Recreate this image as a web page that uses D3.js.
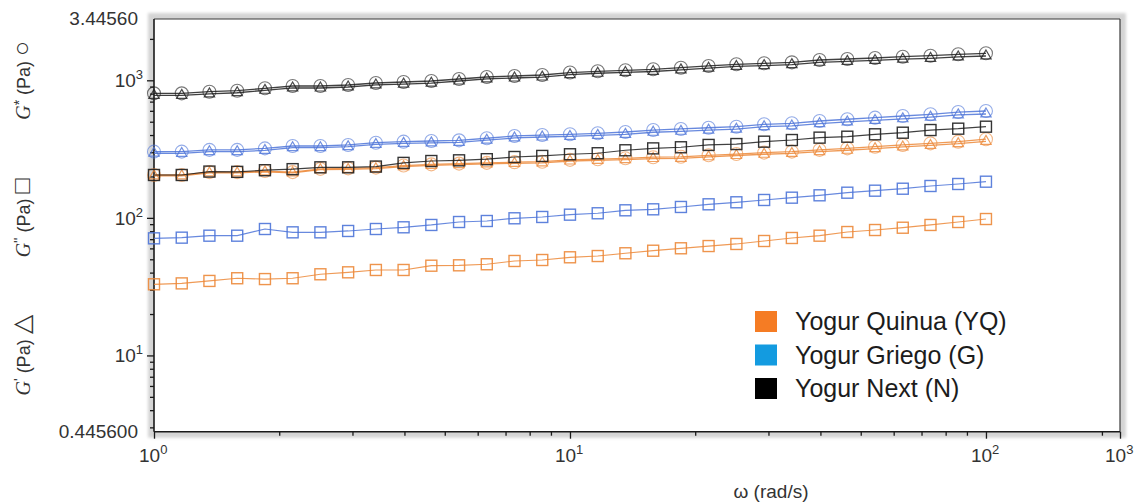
<!DOCTYPE html>
<html><head><meta charset="utf-8">
<script src="https://cdn.jsdelivr.net/npm/d3@7"></script>
<style>body{margin:0;background:#fff} svg{display:block}</style>
</head><body>
<svg id="chart" width="1145" height="502"></svg>
<script>
// Angular frequency sweep (rad/s)
const omega = [1, 1.166, 1.359, 1.585, 1.848, 2.154, 2.512, 2.929, 3.415, 3.981, 4.642, 5.412, 6.310, 7.356, 8.577,
  10, 11.66, 13.59, 15.85, 18.48, 21.54, 25.12, 29.29, 34.15, 39.81, 46.42, 54.12, 63.10, 73.56, 85.77, 100];

// Yogur Quinua (YQ)
const quinuaGStar = [205, 205, 215, 215, 219, 215, 227, 229, 232, 240, 245, 248, 251, 254, 256, 264, 267, 271, 276, 278, 285, 291, 298, 303, 312, 320, 329, 339, 348, 358, 373];
const quinuaGPrime = [202, 202, 212, 212, 216, 212, 224, 225, 228, 236, 241, 244, 247, 249, 251, 259, 262, 265, 270, 271, 278, 284, 290, 294, 303, 310, 319, 328, 336, 346, 360];
const quinuaGDouble = [32.9, 33.4, 34.8, 36.4, 35.9, 36.4, 38.9, 40.2, 41.8, 41.8, 44.9, 45.2, 46, 48.6, 49.4, 51.7, 52.8, 55.3, 57.7, 60.1, 62.4, 64.6, 67.9, 71.4, 74.2, 78.9, 81.6, 84.8, 88.8, 93.3, 98.1];

// Yogur Griego (G)
const griegoGStar = [303, 303, 312, 312, 320, 333, 333, 339, 352, 358, 362, 366, 379, 394, 400, 405, 412, 421, 435, 443, 452, 460, 479, 487, 506, 521, 535, 550, 566, 588, 598];
const griegoGPrime = [295, 294, 303, 303, 309, 324, 324, 329, 342, 348, 351, 354, 367, 381, 387, 391, 398, 405, 419, 426, 434, 441, 460, 466, 484, 498, 511, 525, 540, 561, 569];
const griegoGDouble = [71, 71.8, 74.2, 74.2, 83, 78.5, 78.5, 80.3, 83, 85.4, 88.8, 93.3, 94.9, 99.3, 101.5, 105.5, 108, 113.5, 115.4, 120, 125.5, 129.8, 134.9, 140.2, 145.9, 152.4, 157.6, 162.9, 170.5, 176.3, 183.2];

// Yogur Next (N)
const nextGStar = [804, 804, 826, 840, 875, 909, 909, 924, 956, 972, 988, 1022, 1057, 1075, 1093, 1139, 1163, 1182, 1202, 1235, 1271, 1307, 1329, 1351, 1405, 1428, 1452, 1484, 1509, 1545, 1571];
const nextGPrime = [777, 777, 797, 812, 846, 880, 879, 894, 926, 939, 953, 988, 1023, 1039, 1056, 1101, 1125, 1141, 1159, 1191, 1225, 1261, 1280, 1300, 1352, 1374, 1394, 1424, 1445, 1479, 1502];
const nextGDouble = [205, 205, 217, 216, 222, 226, 233, 233, 236, 251, 259, 262, 267, 277, 282, 290, 295, 310, 320, 326, 339, 344, 358, 368, 383, 389, 405, 416, 435, 445, 460];

const sampleNames = ["Yogur Quinua (YQ)", "Yogur Griego (G)", "Yogur Next (N)"];
const legendColors = ["#f57c24", "#139be0", "#000000"];
const lineColors = ["#ec8838", "#4d74d8", "#1e1e1e"];

// axis ticks and labels
const xMajor = [1, 10, 100];
const xMajorLabels = ["0", "1", "2"];
const xEndLabel = "3";
const yMajor = [10, 100, 1000];
const yMajorLabels = ["1", "2", "3"];
const yTopLabel = "3.44560";
const yBottomLabel = "0.445600";
const yLogRange = [0.4456, 3.4456];
const xEnd = 210;
const xExtraMinor = [190];

const svg = d3.select("#chart");
const L = 154, R = 1120, T = 19, B = 431.7;

const x = d3.scaleLog().domain([1, xEnd]).range([L, R]);
const y = d3.scaleLog().domain([Math.pow(10, yLogRange[0]), Math.pow(10, yLogRange[1])]).range([B, T]);

// soft grey halo round the plot frame
const defs = svg.append("defs");
defs.append("filter").attr("id", "halo").attr("x", "-5%").attr("y", "-5%").attr("width", "110%").attr("height", "110%")
  .append("feGaussianBlur").attr("stdDeviation", 1.5);
svg.append("rect").attr("x", L - 6).attr("y", T - 6).attr("width", R - L + 12).attr("height", B - T + 12)
  .attr("fill", "#d4d4d4").attr("filter", "url(#halo)");
svg.append("rect").attr("x", L).attr("y", T).attr("width", R - L).attr("height", B - T).attr("fill", "#fff");

defs.append("clipPath").attr("id", "plotclip").append("rect")
  .attr("x", L - 10).attr("y", T).attr("width", R - L + 20).attr("height", B - T);

// minor tick values
const yMinor = [];
for (let k = 0; k <= 3; k++) for (let m = 2; m <= 9; m++) {
  const v = m * Math.pow(10, k);
  if (v > y.domain()[0] && v < y.domain()[1]) yMinor.push(v);
}
const xMinor = [];
for (let k = 0; k <= 1; k++) for (let m = 2; m <= 9; m++) xMinor.push(m * Math.pow(10, k));
xExtraMinor.forEach(v => xMinor.push(v));

const axisColor = "#1a1a1a";
const textColor = "#333";
const font = "'Liberation Sans', Arial, sans-serif";

// frame top/right
svg.append("line").attr("x1", L).attr("x2", R).attr("y1", T).attr("y2", T).attr("stroke", "#3a3a3a").attr("stroke-width", 1.2);
svg.append("line").attr("x1", R).attr("x2", R).attr("y1", T).attr("y2", B).attr("stroke", "#3a3a3a").attr("stroke-width", 1.2);

// y axis
const yAxisMajor = d3.axisLeft(y).tickValues(yMajor).tickSize(7).tickFormat("");
const yAxisMinor = d3.axisLeft(y).tickValues(yMinor).tickSize(4).tickFormat("");
[yAxisMinor, yAxisMajor].forEach(ax => {
  const g = svg.append("g").attr("transform", `translate(${L},0)`).call(ax);
  g.select(".domain").remove();
  g.selectAll("line").attr("stroke", axisColor).attr("stroke-width", 1.3);
});
svg.append("line").attr("x1", L).attr("x2", L).attr("y1", T).attr("y2", B).attr("stroke", axisColor).attr("stroke-width", 1.6);

// x axis
const xAxisMajor = d3.axisBottom(x).tickValues(xMajor.concat([xEnd])).tickSize(7).tickFormat("");
const xAxisMinor = d3.axisBottom(x).tickValues(xMinor).tickSize(4).tickFormat("");
[xAxisMinor, xAxisMajor].forEach(ax => {
  const g = svg.append("g").attr("transform", `translate(0,${B})`).call(ax);
  g.select(".domain").remove();
  g.selectAll("line").attr("stroke", axisColor).attr("stroke-width", 1.3);
});
svg.append("line").attr("x1", L).attr("x2", R).attr("y1", B).attr("y2", B).attr("stroke", axisColor).attr("stroke-width", 1.6);

// power-of-ten labels
function powLabel(sel, base, exp) {
  sel.append("tspan").text(base);
  sel.append("tspan").attr("dy", -8).attr("font-size", 13).text(exp);
}
yMajor.forEach((v, i) => {
  const t = svg.append("text").attr("x", L - 11).attr("y", y(v) + 7).attr("text-anchor", "end")
    .attr("font-family", font).attr("font-size", 19).attr("fill", textColor);
  powLabel(t, "10", yMajorLabels[i]);
});
svg.append("text").attr("x", L - 16).attr("y", T + 6).attr("text-anchor", "end")
  .attr("font-family", font).attr("font-size", 19).attr("fill", textColor).text(yTopLabel);
svg.append("text").attr("x", L - 16).attr("y", B + 6).attr("text-anchor", "end")
  .attr("font-family", font).attr("font-size", 19).attr("fill", textColor).text(yBottomLabel);

xMajor.concat([xEnd]).forEach((v, i) => {
  const t = svg.append("text").attr("x", x(v) - 15).attr("y", B + 30)
    .attr("font-family", font).attr("font-size", 19).attr("fill", textColor);
  powLabel(t, "10", i < xMajor.length ? xMajorLabels[i] : xEndLabel);
});

// axis titles
svg.append("text").attr("x", 771).attr("y", 498).attr("text-anchor", "middle")
  .attr("font-family", font).attr("font-size", 19).attr("fill", textColor).text("ω  (rad/s)");

const yTitles = [
  { v: 1000, g: "G", mark: "*", sym: "○" },
  { v: 100, g: "G", mark: "''", sym: "□" },
  { v: 10, g: "G", mark: "'", sym: "△" }
];
yTitles.forEach(d => {
  const t = svg.append("text").attr("transform", `translate(30,${y(d.v)}) rotate(-90)`)
    .attr("text-anchor", "middle").attr("font-family", font).attr("font-size", 18).attr("fill", textColor);
  t.append("tspan").attr("font-family", "'Liberation Serif', serif").attr("font-style", "italic").attr("font-size", 20).text(d.g);
  t.append("tspan").attr("font-size", 14).attr("dy", -6).text(d.mark);
  t.append("tspan").attr("dy", 6).text(" (Pa) ");
  t.append("tspan").attr("font-size", 25).text(d.sym);
});

// series
const samples = [
  { gStar: quinuaGStar, gPrime: quinuaGPrime, gDouble: quinuaGDouble },
  { gStar: griegoGStar, gPrime: griegoGPrime, gDouble: griegoGDouble },
  { gStar: nextGStar, gPrime: nextGPrime, gDouble: nextGDouble }
];

const plot = svg.append("g").attr("clip-path", "url(#plotclip)");
const line = d3.line().x(d => x(d[0])).y(d => y(d[1]));
const tri = d3.symbol().type(d3.symbolTriangle).size(46);

samples.forEach((s, i) => {
  const col = lineColors[i];
  const g = plot.append("g");
  const pts = key => omega.map((w, j) => [w, s[key][j]]);

  // G'' squares
  g.append("path").datum(pts("gDouble")).attr("d", line).attr("fill", "none").attr("stroke", col)
    .attr("stroke-width", 1.2).attr("opacity", 0.85);
  g.selectAll(null).data(pts("gDouble")).join("rect")
    .attr("x", d => x(d[0]) - 5.5).attr("y", d => y(d[1]) - 5.5).attr("width", 11).attr("height", 11)
    .attr("fill", "none").attr("stroke", col).attr("stroke-width", 1.4).attr("opacity", 0.9);

  // G' triangles
  g.append("path").datum(pts("gPrime")).attr("d", line).attr("fill", "none").attr("stroke", col)
    .attr("stroke-width", 1.3).attr("opacity", 0.85);
  g.selectAll(null).data(pts("gPrime")).join("path").attr("d", tri)
    .attr("transform", d => `translate(${x(d[0])},${y(d[1])})`)
    .attr("fill", "none").attr("stroke", col).attr("stroke-width", 1.2).attr("opacity", 0.8);

  // G* circles
  g.append("path").datum(pts("gStar")).attr("d", line).attr("fill", "none").attr("stroke", col)
    .attr("stroke-width", 1.3).attr("opacity", 0.85);
  g.selectAll(null).data(pts("gStar")).join("circle")
    .attr("cx", d => x(d[0])).attr("cy", d => y(d[1])).attr("r", 6.5)
    .attr("fill", "none").attr("stroke", col).attr("stroke-width", 1.1).attr("opacity", 0.6);
});

// legend
const legend = svg.append("g").attr("transform", "translate(755,311)");
sampleNames.forEach((name, i) => {
  const row = legend.append("g").attr("transform", `translate(0,${i * 33.5})`);
  row.append("rect").attr("width", 22).attr("height", 21).attr("fill", legendColors[i]);
  row.append("text").attr("x", 40).attr("y", 19).attr("font-family", font).attr("font-size", 25)
    .attr("fill", "#1c1c1c").text(name);
});
</script>
</body></html>
